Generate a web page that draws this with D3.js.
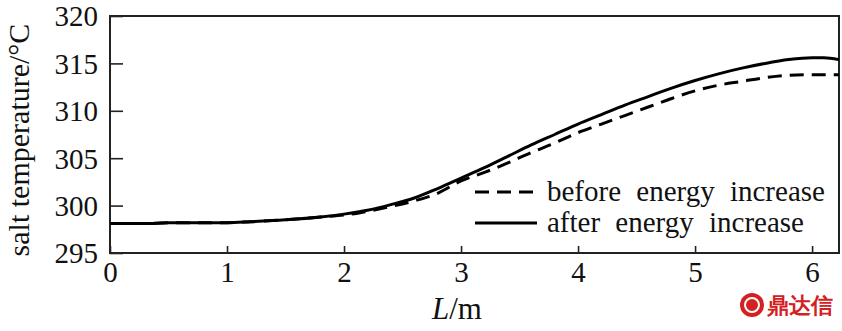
<!DOCTYPE html>
<html lang="en">
<head>
  <meta charset="UTF-8">
  <title>salt temperature</title>
  <script src="https://d3js.org/d3.v7.min.js"></script>
  <style>
    body { margin: 0; background: #fff; }
    text { font-family: "Liberation Serif", "Times New Roman", serif; fill: #111; }
  </style>
</head>
<body>
<script>
// data
var lenBefore = [0, 0.3, 0.5, 1.0, 1.2, 1.5, 1.8, 2.0, 2.2, 2.4, 2.6, 2.8, 3.0, 3.2, 3.4, 3.6, 3.8, 4.0, 4.2, 4.4, 4.6, 4.8, 5.0, 5.2, 5.4, 5.6, 5.8, 6.0, 6.23];
var tempBefore = [298.1, 298.1, 298.2, 298.2, 298.3, 298.5, 298.8, 299.0, 299.4, 299.9, 300.5, 301.3, 302.6, 303.5, 304.5, 305.6, 306.6, 307.7, 308.6, 309.5, 310.4, 311.3, 312.1, 312.7, 313.1, 313.5, 313.75, 313.8, 313.8];
var lenAfter = [0, 0.3, 0.5, 1.0, 1.2, 1.5, 1.8, 2.0, 2.2, 2.4, 2.6, 2.8, 3.0, 3.2, 3.4, 3.6, 3.8, 4.0, 4.2, 4.4, 4.6, 4.8, 5.0, 5.2, 5.4, 5.6, 5.8, 6.0, 6.1, 6.23];
var tempAfter = [298.1, 298.1, 298.2, 298.2, 298.3, 298.5, 298.8, 299.1, 299.5, 300.1, 300.8, 301.8, 302.9, 304.0, 305.2, 306.4, 307.5, 308.6, 309.6, 310.6, 311.5, 312.4, 313.2, 313.9, 314.5, 315.0, 315.4, 315.6, 315.6, 315.4];
var xTicks = [0, 1, 2, 3, 4, 5, 6];
var yTicks = [295, 300, 305, 310, 315, 320];
var legendLabels = ["before energy increase", "after energy increase"];

var W = 842, H = 331;
var margin = {top: 16, right: 3, bottom: 78, left: 110};
var width = W - margin.left - margin.right;
var height = H - margin.top - margin.bottom;

var svg = d3.select('body').append('svg')
  .attr('width', W).attr('height', H);
var g = svg.append('g')
  .attr('transform', 'translate(' + margin.left + ',' + margin.top + ')');

var x = d3.scaleLinear().domain([0, 6.23]).range([0, width]);
var y = d3.scaleLinear().domain([295, 320]).range([height, 0]);

// axes, ticks point inward
var xAxis = g.append('g')
  .attr('transform', 'translate(0,' + height + ')')
  .call(d3.axisBottom(x).tickValues(xTicks).tickSize(-7).tickPadding(8).tickFormat(d3.format('d')));
var yAxis = g.append('g')
  .call(d3.axisLeft(y).tickValues(yTicks).tickSize(-13).tickPadding(12).tickFormat(d3.format('d')));
[xAxis, yAxis].forEach(function(a) {
  a.select('.domain').remove();
  a.selectAll('line').attr('stroke', '#222').attr('stroke-width', 1.6);
  a.selectAll('text').attr('font-size', 29).attr('font-family', '"Liberation Serif", serif').attr('fill', '#111');
});
yAxis.selectAll('text').attr('dy', '0.34em');

// frame
g.append('rect')
  .attr('x', 0).attr('y', 0).attr('width', width).attr('height', height)
  .attr('fill', 'none').attr('stroke', '#222').attr('stroke-width', 2);

var line = d3.line()
  .x(function(d) { return x(d[0]); })
  .y(function(d) { return y(d[1]); })
  .curve(d3.curveMonotoneX);

g.append('path')
  .datum(d3.zip(lenBefore, tempBefore))
  .attr('d', line)
  .attr('fill', 'none').attr('stroke', '#000').attr('stroke-width', 3)
  .attr('stroke-dasharray', '14,8');

g.append('path')
  .datum(d3.zip(lenAfter, tempAfter))
  .attr('d', line)
  .attr('fill', 'none').attr('stroke', '#000').attr('stroke-width', 3);

// legend
var legend = svg.append('g').attr('transform', 'translate(475,192)');
legendLabels.forEach(function(lab, i) {
  var row = legend.append('g').attr('transform', 'translate(0,' + (i * 31) + ')');
  row.append('line')
    .attr('x1', 0).attr('x2', 62).attr('y1', 0).attr('y2', 0)
    .attr('stroke', '#000').attr('stroke-width', 3)
    .attr('stroke-dasharray', i === 0 ? '14,8' : null);
  row.append('text')
    .attr('x', 72).attr('y', 9)
    .attr('font-size', 29)
    .attr('word-spacing', 8)
    .text(lab);
});

// axis titles
var xt = svg.append('text')
  .attr('x', 457).attr('y', 319)
  .attr('text-anchor', 'middle')
  .attr('font-size', 31);
xt.append('tspan').attr('font-style', 'italic').text('L');
xt.append('tspan').text('/m');

svg.append('text')
  .attr('transform', 'translate(29,140) rotate(-90)')
  .attr('text-anchor', 'middle')
  .attr('font-size', 30)
  .text('salt temperature/\u00B0C');

// watermark
var wm = svg.append('g').attr('transform', 'translate(752,305)');
wm.append('circle').attr('cx', 0).attr('cy', 0).attr('r', 12).attr('fill', '#d42020');
wm.append('circle').attr('cx', 0).attr('cy', 0).attr('r', 7).attr('fill', 'none')
  .attr('stroke', '#fff').attr('stroke-width', 2);
wm.append('text').attr('x', 15).attr('y', 8)
  .attr('font-size', 22).attr('font-weight', 'bold').style('fill', '#d42020')
  .attr('font-family', '"Noto Sans CJK SC", sans-serif').text('鼎达信');
</script>
</body>
</html>
